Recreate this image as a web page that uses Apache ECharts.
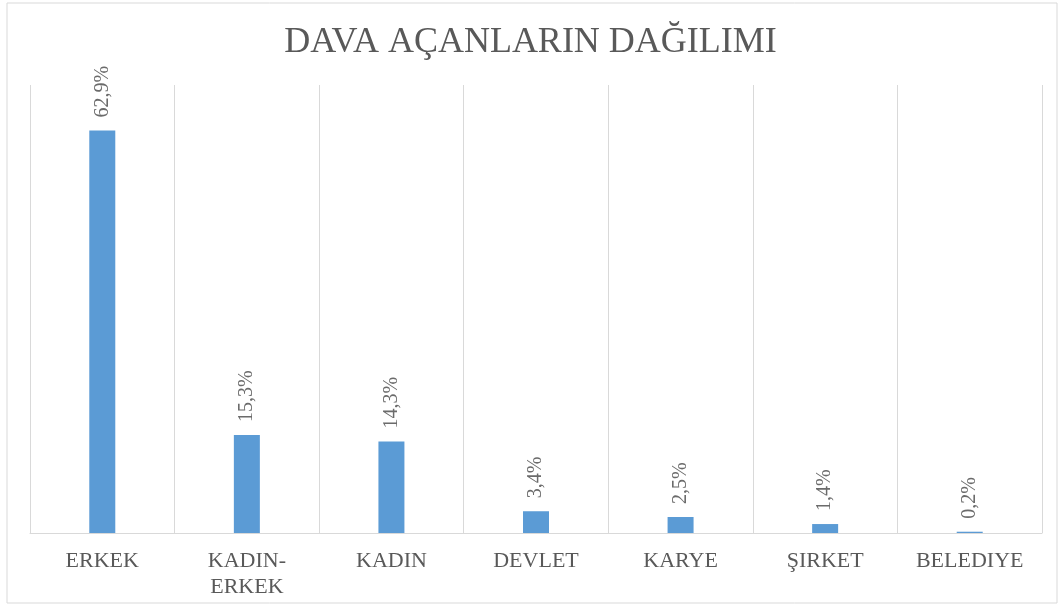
<!DOCTYPE html>
<html>
<head>
<meta charset="utf-8">
<script src="https://cdn.jsdelivr.net/npm/echarts@6/dist/echarts.min.js"></script>
<style>
  html, body { margin: 0; padding: 0; background: #fff; }
  #b { width: 1061px; height: 606px; }
</style>
</head>
<body>
<div id="b"></div>
<script>
var kategoriler = ['ERKEK', 'KADIN-\nERKEK', 'KADIN', 'DEVLET', 'KARYE', 'ŞIRKET', 'BELEDIYE'];
var oranlar = [62.9, 15.3, 14.3, 3.4, 2.5, 1.4, 0.2];

var serif = '"Liberation Serif", "DejaVu Serif", serif';
var myChart = echarts.init(document.getElementById('b'));
var option = {
  backgroundColor: '#fff',
  title: {
    text: 'DAVA AÇANLARIN DAĞILIMI',
    left: 'center',
    top: 20,
    textStyle: { fontFamily: serif, fontSize: 36, fontWeight: 'normal', color: '#595959' }
  },
  graphic: [{
    type: 'rect',
    shape: { x: 7, y: 3, width: 1050, height: 600 },
    style: { fill: 'none', stroke: '#d9d9d9', lineWidth: 1 },
    silent: true
  }],
  grid: { left: 30, right: 19, top: 85, bottom: 73 },
  xAxis: {
    type: 'category',
    data: kategoriler,
    axisLine: { lineStyle: { color: '#d9d9d9' } },
    axisTick: { show: false },
    splitLine: { show: true, lineStyle: { color: '#d9d9d9' } },
    axisLabel: {
      interval: 0,
      margin: 15,
      fontFamily: serif,
      fontSize: 22,
      lineHeight: 26,
      color: '#595959'
    }
  },
  yAxis: {
    type: 'value',
    min: 0,
    max: 70,
    show: false,
    splitLine: { show: false }
  },
  series: [{
    type: 'bar',
    data: oranlar,
    barWidth: 26,
    itemStyle: { color: '#5b9bd5' },
    label: {
      show: true,
      position: 'top',
      rotate: 90,
      align: 'left',
      verticalAlign: 'middle',
      distance: 13,
      fontFamily: serif,
      fontSize: 20,
      color: '#6b6b6b',
      formatter: function (p) { return p.value.toFixed(1).replace('.', ',') + '%'; }
    }
  }]
};
myChart.setOption(option);
</script>
</body>
</html>
